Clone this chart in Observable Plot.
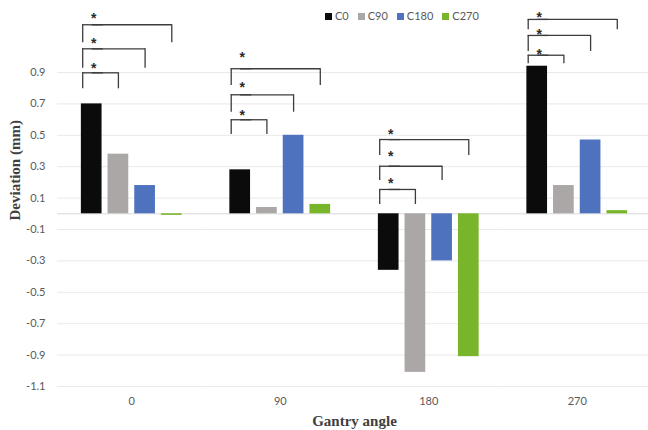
<!DOCTYPE html>
<html>
<head>
<meta charset="utf-8">
<script src="https://cdn.jsdelivr.net/npm/d3@7"></script>
<script src="https://cdn.jsdelivr.net/npm/@observablehq/plot@0.6"></script>
<style>
  body { margin: 0; background: #fff; }
  #chart { position: relative; width: 648px; height: 430px; }
  #legend {
    position: absolute; left: 325px; top: 9px;
    display: flex; align-items: center;
    font: 11px Lato, sans-serif; color: #595959; line-height: 14px;
  }
  #legend .item { display: flex; align-items: center; margin-right: 9px; }
  #legend .sw { width: 7px; height: 7px; margin-right: 3px; }
</style>
</head>
<body>
<div id="chart"><div id="legend"></div></div>
<script>
// Gantry angles (groups) and collimator series
const angles = ["0", "90", "180", "270"];
const series = ["C0", "C90", "C180", "C270"];
const colors = ["#0b0b0b", "#aba7a6", "#4f72be", "#78b52a"];

// Deviation (mm) per series, one value per gantry angle
const valuesC0   = [0.70, 0.28, -0.36, 0.94];
const valuesC90  = [0.38, 0.04, -1.01, 0.18];
const valuesC180 = [0.18, 0.50, -0.30, 0.47];
const valuesC270 = [-0.01, 0.06, -0.91, 0.02];
const seriesValues = [valuesC0, valuesC90, valuesC180, valuesC270];

// y axis ticks
const yTicks = [-1.1, -0.9, -0.7, -0.5, -0.3, -0.1, 0.1, 0.3, 0.5, 0.7, 0.9];

// Significance brackets: each runs from C0 to a target series
const bracketTargets = ["C90", "C180", "C270"];
const bracketTops = [
  [0.898, 1.051, 1.204],
  [0.599, 0.758, 0.924],
  [0.155, 0.303, 0.473],
  [1.010, 1.136, 1.238]
];
const bracketEnds = [
  [0.796, 0.927, 1.089],
  [0.505, 0.647, 0.817],
  [0.059, 0.212, 0.371],
  [0.955, 1.034, 1.172]
];
const starLevels = [
  [0.951, 1.110, 1.270],
  [0.654, 0.832, 1.023],
  [0.217, 0.389, 0.531],
  [1.040, 1.168, 1.274]
];

const bars = angles.flatMap((a, i) =>
  series.map((s, j) => ({angle: a, series: s, value: seriesValues[j][i]}))
);
const brackets = angles.flatMap((a, i) =>
  bracketTargets.map((t, k) => ({
    angle: a, from: "C0", to: t,
    top: bracketTops[i][k], end: bracketEnds[i][k], star: starLevels[i][k]
  }))
);

const ink = "#3c3c3c";
const serif = "'Liberation Serif', 'Times New Roman', serif";
const first = () => angles[0];

const chart = Plot.plot({
  width: 648,
  height: 430,
  marginLeft: 57,
  marginRight: 0,
  marginTop: 72,
  marginBottom: 44,
  style: {fontFamily: "Lato, sans-serif", fontSize: "11px", color: "#595959", background: "#fff"},
  // contiguous facets, one per gantry angle; the gaps between groups come from x padding
  fx: {domain: angles, range: [57, 651], padding: 0, round: false, axis: null},
  x: {domain: series, paddingInner: 0.225, paddingOuter: 0.894, round: false, axis: null},
  y: {domain: [-1.1, 0.9], axis: null},
  color: {domain: series, range: colors},
  marks: [
    // gridlines and zero axis line (repeated across the abutting facets)
    Plot.ruleY(yTicks, {stroke: "#e9e9e9"}),
    Plot.ruleY([0], {stroke: "#d9d9d9"}),
    // y tick labels, drawn in the first facet only
    Plot.text(yTicks, {
      fx: first, y: d => d, text: d => d.toFixed(1), frameAnchor: "left",
      textAnchor: "end", dx: -12, fill: "#595959"
    }),
    // grouped bars
    Plot.barY(bars, {fx: "angle", x: "series", y: "value", fill: "series"}),
    // brackets: left legs, horizontal bars, right legs
    Plot.ruleX(brackets, {fx: "angle", x: "from", y1: "end", y2: "top", dx: -9, stroke: ink, strokeWidth: 1.3}),
    Plot.ruleY(brackets, {fx: "angle", x1: "from", x2: "from", y: "top", dx: 1.3, stroke: ink, strokeWidth: 1.3}),
    Plot.link(brackets, {fx: "angle", x1: "from", x2: "to", y1: "top", y2: "top", stroke: ink, strokeWidth: 1.3}),
    Plot.ruleX(brackets, {fx: "angle", x: "to", y1: "end", y2: "top", stroke: ink, strokeWidth: 1.3}),
    Plot.text(brackets, {
      fx: "angle", x: "from", y: "star", text: () => "*", dx: 2, dy: 4,
      fontFamily: "'Liberation Sans', Arial, sans-serif", fontSize: 14, fontWeight: "bold", fill: "#2a2a2a"
    }),
    // gantry angle labels
    Plot.text(angles, {fx: d => d, text: d => d, frameAnchor: "bottom", dy: 18, fill: "#595959"}),
    // axis titles
    Plot.text(["Gantry angle"], {
      fx: () => angles[1], frameAnchor: "bottom-right", textAnchor: "middle", dy: 39,
      fontFamily: serif, fontWeight: "bold", fontSize: 15, fill: "#404040"
    }),
    Plot.text(["Deviation (mm)"], {
      fx: first, frameAnchor: "left", dx: -42, dy: -9, rotate: -90,
      fontFamily: serif, fontWeight: "bold", fontSize: 15, fill: "#404040"
    })
  ]
});

const holder = document.getElementById("chart");
holder.insertBefore(chart, holder.firstChild);

// legend
const colorScale = chart.scale("color");
const legend = d3.select("#legend");
colorScale.domain.forEach((s, i) => {
  const item = legend.append("div").attr("class", "item");
  item.append("div").attr("class", "sw").style("background", colorScale.range[i]);
  item.append("span").text(s);
});
</script>
</body>
</html>
